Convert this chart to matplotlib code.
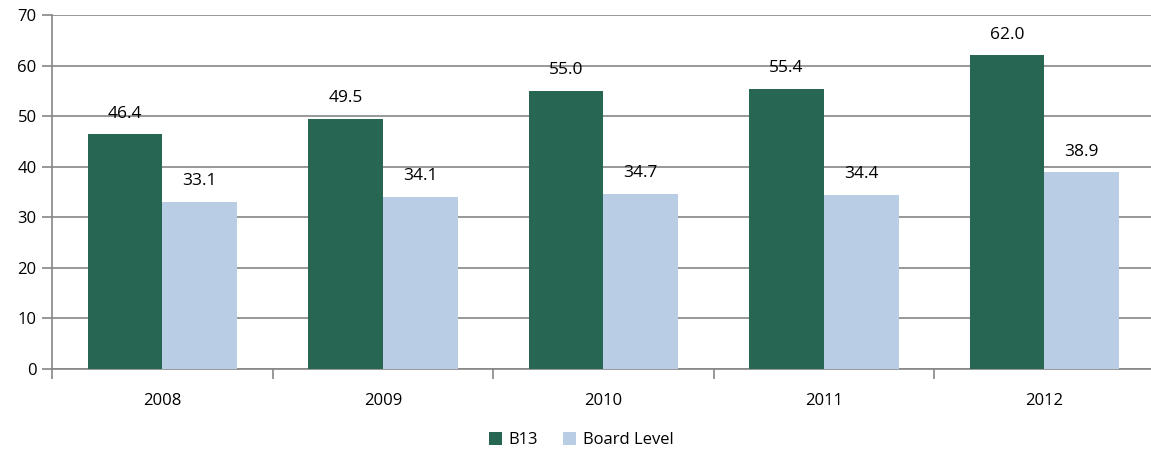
import numpy as np
import matplotlib.pyplot as plt

years = ['2008', '2009', '2010', '2011', '2012']
b13 = [46.4, 49.5, 55.0, 55.4, 62.0]
board = [33.1, 34.1, 34.7, 34.4, 38.9]

plt.rcParams['font.family'] = ['Open Sans', 'DejaVu Sans']

fig = plt.figure(figsize=(11.51, 4.53), dpi=100)
ax = fig.add_axes([0.0452, 0.1854, 0.958, 0.7815])

x = np.arange(len(years))
w = 0.339
bars1 = ax.bar(x - w / 2, b13, w, color='#266652', label='B13', zorder=3)
bars2 = ax.bar(x + w / 2, board, w, color='#B9CDE5', label='Board Level', zorder=3)

# value labels above bars
for b, v in zip(bars1, b13):
    ax.text(b.get_x() + b.get_width() / 2, v + 4.1, f'{v:.1f}', ha='center', va='center', fontsize=12.5)
for b, v in zip(bars2, board):
    ax.text(b.get_x() + b.get_width() / 2, v + 4.1, f'{v:.1f}', ha='center', va='center', fontsize=12.5)

ax.set_ylim(0, 70)
ax.set_xlim(-0.5, len(years) - 0.5)
ax.set_yticks(range(0, 71, 10))
ax.yaxis.grid(True, color='#868686', linewidth=1.2, zorder=0)
ax.set_axisbelow(True)

ax.set_xticks(np.arange(-0.5, len(years), 1.0))
ax.set_xticklabels([])
ax.set_xticks(x, minor=True)
ax.set_xticklabels(years, minor=True)
ax.tick_params(axis='x', which='minor', length=0, pad=17, labelsize=12)
ax.tick_params(axis='x', which='major', length=7, color='#868686', width=1.2)
ax.tick_params(axis='y', length=7, color='#868686', width=1.2, labelsize=12, pad=4)

for s in ['top', 'right']:
    ax.spines[s].set_visible(False)
for s in ['left', 'bottom']:
    ax.spines[s].set_color('#868686')
    ax.spines[s].set_linewidth(1.2)

fig.legend(loc='center', bbox_to_anchor=(0.505, 0.029), ncol=2, frameon=False,
           fontsize=12, handlelength=0.8, handleheight=0.8, handletextpad=0.4, columnspacing=1.5)

fig.savefig('out.png', dpi=100)
